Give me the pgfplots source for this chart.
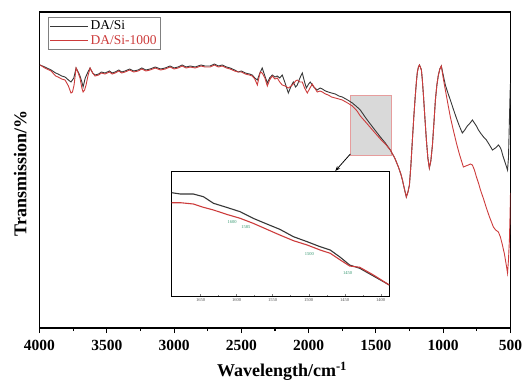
\documentclass[border=0pt]{standalone}
\usepackage{fontspec}
\setmainfont{Liberation Serif}
\usepackage{pgfplots}
\pgfplotsset{compat=1.18}
\usepackage{pgfplotstable}
\usetikzlibrary{arrows.meta}
\definecolor{myred}{RGB}{205,60,60}
\definecolor{mygray}{RGB}{55,55,55}
\definecolor{mygreen}{RGB}{50,150,110}

\pgfplotstableread{
w y
3996 263
3960 261
3914 258
3880 255
3862 254
3835 252
3810 251
3785 248
3766 246
3745 250
3728 260
3712 256
3699 252
3685 246
3676 241
3660 250
3640 256
3624 260
3605 255
3587 253
3560 254
3540 256
3513 255
3480 257
3460 255
3438 256
3410 258
3390 256
3364 257
3330 259
3300 257
3267 258
3240 260
3210 258
3178 259
3140 261
3100 259
3066 260
3030 262
3000 260
2970 261
2940 263
2910 261
2880 262
2843 261
2800 263
2770 262
2732 262
2700 264
2670 262
2642 263
2610 261
2583 260
2550 258
2523 256
2500 257
2471 255
2440 254
2419 253
2400 250
2381 248
2365 254
2345 260
2325 252
2307 245
2290 250
2270 253
2250 251
2233 252
2215 250
2196 253
2175 245
2151 235
2130 242
2114 246
2097 241
2084 243
2065 250
2047 255
2030 246
2017 240
2000 244
1988 246
1962 241
1936 238
1915 240
1898 239
1875 237
1854 236
1830 235
1802 234
1775 232
1750 231
1710 228
1675 225
1640 221
1616 218
1570 209
1519 200
1467 191
1430 185
1393 178
1360 170
1333 161
1315 154
1303 148
1290 140
1274 131
1262 136
1251 143
1240 163
1229 188
1218 212
1207 233
1198 248
1192 256
1184 261
1177 263
1170 261
1162 258
1155 248
1147 233
1136 210
1125 188
1114 170
1103 160
1092 167
1080 183
1069 205
1058 228
1047 243
1036 253
1025 259
1014 262
1000 253
984 243
965 235
947 228
925 219
902 210
880 202
858 195
840 198
821 202
800 205
783 208
768 205
753 202
738 198
723 195
700 191
679 188
656 183
634 178
612 180
590 183
578 181
568 178
556 172
546 168
534 163
522 158
515 170
508 208
503 235
500 245
}\blackdata

\pgfplotstableread{
w y
3996 263
3960 260
3914 257
3880 252
3862 251
3835 249
3810 248
3785 242
3766 235
3755 236
3743 243
3728 260
3712 255
3699 250
3685 240
3676 236
3665 238
3654 243
3640 252
3624 260
3605 255
3587 252
3560 253
3540 255
3513 254
3480 256
3460 254
3438 255
3410 257
3390 255
3364 256
3330 258
3300 256
3267 257
3240 259
3210 257
3178 258
3140 260
3100 258
3066 259
3030 261
3000 259
2970 260
2940 262
2910 260
2880 261
2843 260
2800 262
2770 261
2732 261
2700 263
2670 261
2642 262
2610 260
2583 259
2550 257
2523 256
2500 256
2471 254
2440 253
2419 252
2400 249
2381 243
2370 250
2359 256
2345 255
2325 250
2307 242
2290 248
2270 252
2250 249
2233 250
2215 246
2196 243
2175 242
2151 240
2130 242
2114 244
2097 247
2084 248
2065 246
2047 246
2030 240
2010 235
1990 240
1973 244
1955 240
1936 236
1915 237
1898 236
1875 234
1854 233
1830 231
1802 230
1775 229
1750 228
1710 225
1675 222
1640 217
1616 212
1570 205
1519 197
1467 189
1430 184
1393 178
1360 170
1333 161
1315 154
1303 148
1290 140
1274 131
1262 136
1251 143
1240 163
1229 188
1218 212
1207 233
1198 248
1192 256
1184 261
1177 263
1170 261
1162 258
1155 248
1147 233
1136 210
1125 188
1114 170
1103 160
1092 167
1080 183
1069 205
1058 228
1047 243
1036 253
1025 259
1014 262
1000 250
984 238
965 224
947 211
925 198
902 185
880 174
850 161
832 162
813 163
798 164
783 163
768 158
753 151
738 145
723 138
700 129
679 120
656 111
627 101
610 98
590 96
575 91
560 83
545 74
530 62
522 55
515 68
508 88
503 115
500 135
}\reddata

\pgfplotstableread{
w y
1690 135.3
1678 134
1660 134
1646 131.3
1632 124.7
1614 120.7
1595 116.3
1577 109.7
1558 104
1540 98.7
1521 91.3
1502 86.3
1484 81.3
1470 78
1456 70.7
1443 63
1429 59.7
1410 52
1388 43
}\insetblack

\pgfplotstableread{
w y
1690 125.3
1678 125.3
1660 124
1646 120.7
1632 118
1614 113.7
1595 109.7
1577 104.7
1558 98.7
1540 93
1521 87.3
1502 83
1484 78
1470 74.7
1456 68
1443 62
1429 60.7
1410 53
1388 43
}\insetred

\begin{document}
\begin{tikzpicture}
\useasboundingbox (-39.5pt,-53pt) rectangle (483.5pt,328pt);
\begin{axis}[
  scale only axis, width=471pt, height=316pt,
  xmin=500, xmax=4000, x dir=reverse,
  ymin=0, ymax=316, ytick=\empty,
  xtick={500,1000,...,4000}, minor x tick num=1,
  xtick pos=bottom, tick align=outside,
  major tick length=5pt, minor tick length=3pt,
  axis line style={line width=1.3pt},
  every tick/.style={line width=1.1pt, black},
  /pgf/number format/set thousands separator={},
  /pgf/number format/assume math mode=true,
  tick label style={font=\fontsize{15.5}{16}\selectfont\bfseries},
  xticklabel style={yshift=-4pt},
  xlabel={Wavelength/cm\textsuperscript{-1}},
  ylabel={Transmission/\%},
  label style={font=\fontsize{18}{18}\selectfont\bfseries},
  xlabel style={at={(axis description cs:0.515,0)}, anchor=center, yshift=-43pt},
  ylabel style={at={(axis description cs:-0.041,0.49)}, anchor=center},
  legend style={at={(rel axis cs:0.018,0.984)}, anchor=north west, draw=gray,
    font=\fontsize{13.5}{13.5}\selectfont, inner sep=1.5pt, row sep=0pt,
    /tikz/every even column/.append style={column sep=2pt}},
  legend cell align=left,
  legend image code/.code={\draw[#1] (0pt,0pt) -- (38pt,0pt);},
]
\fill[gray!30, draw=myred!50] (axis cs:1690,173) rectangle (axis cs:1385,233);
\addplot[mygray, line width=0.9pt] table[x=w,y=y] {\blackdata};
\addlegendentry{DA/Si}
\addplot[myred, line width=0.9pt] table[x=w,y=y] {\reddata};
\addlegendentry{\textcolor{myred}{DA/Si-1000}}
\draw[-{Stealth[length=5pt]}, line width=0.8pt] (axis cs:1690,174) -- (axis cs:1802,157);
\end{axis}
\begin{axis}[
  at={(132.2pt,32pt)}, anchor=south west,
  scale only axis, width=217.6pt, height=124pt,
  xmin=1388, xmax=1690, x dir=reverse,
  ymin=32, ymax=156, ytick=\empty,
  xtick={1400,1450,...,1650}, minor x tick num=1,
  xtick pos=bottom, tick align=inside,
  major tick length=2pt, minor tick length=1.2pt,
  axis background/.style={fill=white},
  axis line style={line width=1pt},
  /pgf/number format/set thousands separator={},
  /pgf/number format/assume math mode=true,
  xticklabel style={font=\fontsize{4.5}{5}\selectfont, text=black!70, yshift=1pt},
]
\addplot[mygray, line width=1.1pt] table[x=w,y=y] {\insetblack};
\addplot[myred, line width=1.1pt] table[x=w,y=y] {\insetred};
\node[font=\fontsize{4.5}{5}\selectfont, text=mygreen] at (axis cs:1606,106) {1600};
\node[font=\fontsize{4.5}{5}\selectfont, text=mygreen] at (axis cs:1587,101) {1585};
\node[font=\fontsize{4.5}{5}\selectfont, text=mygreen] at (axis cs:1499,74) {1500};
\node[font=\fontsize{4.5}{5}\selectfont, text=mygreen] at (axis cs:1446,55) {1450};
\end{axis}
\end{tikzpicture}
\end{document}
